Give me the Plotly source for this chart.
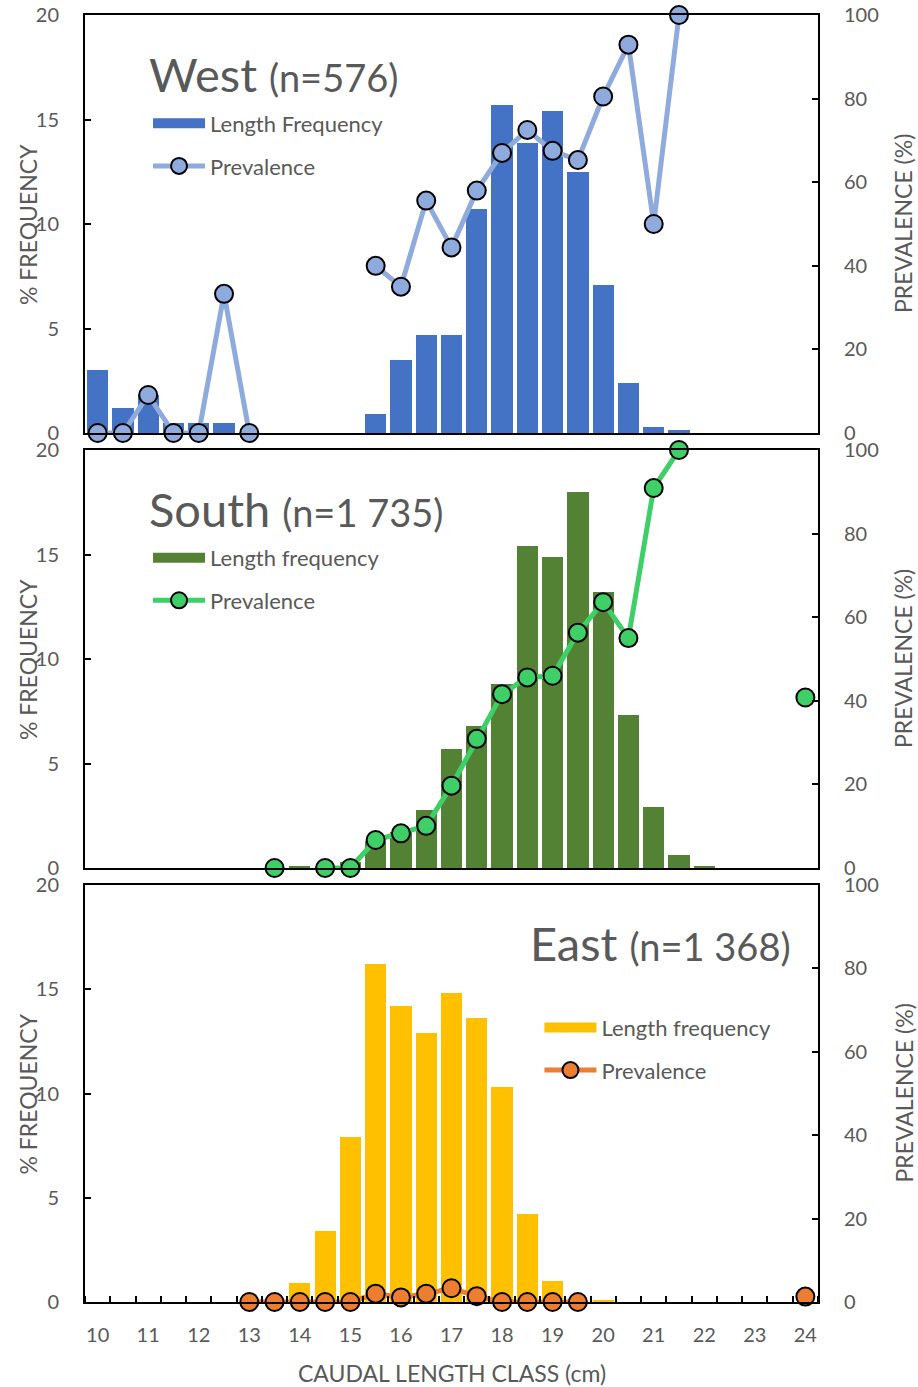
import plotly.graph_objects as go

# Caudal length classes (cm), 0.5 cm bins
length_class = [10, 10.5, 11, 11.5, 12, 12.5, 13, 13.5, 14, 14.5, 15, 15.5, 16, 16.5, 17,
                17.5, 18, 18.5, 19, 19.5, 20, 20.5, 21, 21.5, 22, 22.5, 23, 23.5, 24]
x_tick_labels = [10, 11, 12, 13, 14, 15, 16, 17, 18, 19, 20, 21, 22, 23, 24]

# West (n=576)
west_freq = [3.0, 1.2, 1.8, 0.5, 0.5, 0.5, 0, 0, 0, 0, 0, 0.9, 3.5, 4.7, 4.7,
             10.7, 15.7, 13.9, 15.4, 12.5, 7.1, 2.4, 0.3, 0.15, 0, 0, 0, 0, 0]
west_prev = [0, 0, 9.1, 0, 0, 33.3, 0, None, None, None, None, 40.0, 35.0, 55.6, 44.4,
             58.0, 67.0, 72.5, 67.5, 65.3, 80.5, 92.9, 50.0, 100, None, None, None, None, None]

# South (n=1 735)
south_freq = [0, 0, 0, 0, 0, 0, 0, 0, 0.1, 0.1, 0.3, 1.3, 1.7, 2.8, 5.7,
              6.8, 8.8, 15.4, 14.9, 18.0, 13.2, 7.3, 2.9, 0.6, 0.1, 0, 0, 0, 0]
south_prev = [None, None, None, None, None, None, None, 0, None, 0, 0, 6.7, 8.3, 10.1, 19.7,
              30.9, 41.6, 45.6, 46.0, 56.3, 63.6, 55.0, 90.9, 100, None, None, None, None, 40.8]

# East (n=1 368)
east_freq = [0, 0, 0, 0, 0, 0, 0, 0, 0.9, 3.4, 7.9, 16.2, 14.2, 12.9, 14.8,
             13.6, 10.3, 4.2, 1.0, 0, 0.1, 0, 0, 0, 0, 0, 0, 0, 0]
east_prev = [None, None, None, None, None, None, 0, 0, 0, 0, 0, 2.0, 1.1, 2.0, 3.3,
             1.4, 0, 0, 0, 0, None, None, None, None, None, None, None, None, 1.3]

FONT = "Lato"
GREY = "#595959"

panels = [
    dict(name="West", n="(n=576)", freq=west_freq, prev=west_prev,
         bar_color="#4472C4", line_color="#8FAADC", bar_label="Length Frequency",
         title_x=0.0846, title_y=0.86, legend_x=0.086, legend_y=0.932,
         domain=[0.6752, 1.0]),
    dict(name="South", n="(n=1 735)", freq=south_freq, prev=south_prev,
         bar_color="#548235", line_color="#3ECF66", bar_label="Length frequency",
         title_x=0.0846, title_y=0.86, legend_x=0.086, legend_y=0.5945,
         domain=[0.3372, 0.6620]),
    dict(name="East", n="(n=1 368)", freq=east_freq, prev=east_prev,
         bar_color="#FFC000", line_color="#ED7D31", bar_label="Length frequency",
         title_x=0.604, title_y=0.86, legend_x=0.62, legend_y=0.2295,
         domain=[0.0, 0.3240]),
]

fig = go.Figure()
layout = dict(
    width=918, height=1387,
    margin=dict(l=85, r=100, t=15, b=85, autoexpand=False),
    paper_bgcolor="white", plot_bgcolor="white",
    font=dict(family=FONT, color=GREY, size=20),
    showlegend=True,
    annotations=[],
    bargap=0,
)

for i, p in enumerate(panels):
    k = i + 1
    xa = "x" if k == 1 else f"x{k}"
    ya = "y" if k == 1 else f"y{2 * k - 1}"
    yb = f"y{2 * k}"
    leg = "legend" if k == 1 else f"legend{k}"

    fig.add_trace(go.Bar(
        x=length_class, y=p["freq"], width=0.42,
        marker=dict(color=p["bar_color"], line=dict(width=0)),
        name=p["bar_label"], xaxis=xa, yaxis=ya, showlegend=False,
    ))
    # legend key for the bars: a wide flat swatch in the bar colour
    fig.add_trace(go.Scatter(
        x=[None], y=[None], mode="lines",
        line=dict(color=p["bar_color"], width=13),
        name=p["bar_label"], xaxis=xa, yaxis=ya, legend=leg, legendgroup=f"b{k}",
    ))
    fig.add_trace(go.Scatter(
        x=length_class, y=p["prev"], mode="lines+markers",
        line=dict(color=p["line_color"], width=5),
        marker=dict(size=18, color=p["line_color"], line=dict(color="black", width=2)),
        name="Prevalence", xaxis=xa, yaxis=yb, legend=leg, legendgroup=f"p{k}",
        cliponaxis=False, connectgaps=False,
    ))

    x_key = "xaxis" if k == 1 else f"xaxis{k}"
    y_key = "yaxis" if k == 1 else f"yaxis{2 * k - 1}"
    y2_key = f"yaxis{2 * k}"

    xaxis = dict(
        domain=[0, 1], anchor=ya, range=[9.75, 24.25], automargin=False,
        showline=True, linecolor="black", linewidth=2, mirror=True,
        showgrid=False, zeroline=False, ticks="",
    )
    if k == 3:
        xaxis.update(
            tickmode="array", tickvals=x_tick_labels,
            ticktext=[str(v) for v in x_tick_labels],
            tickfont=dict(size=20, color=GREY), ticklabelstandoff=14,
            minor=dict(ticks="inside", tick0=9.75, dtick=0.5, ticklen=6,
                       tickwidth=1.5, tickcolor="black", showgrid=False),
        )
    else:
        xaxis.update(showticklabels=False)
    layout[x_key] = xaxis

    layout[y_key] = dict(
        domain=p["domain"], anchor=xa, range=[0, 20], tickmode="linear", tick0=0, dtick=5,
        ticks="inside", ticklen=6, tickwidth=1.5, tickcolor="black",
        showline=True, linecolor="black", linewidth=2, automargin=False,
        showgrid=False, zeroline=False,
        tickfont=dict(size=20, color=GREY), ticklabelstandoff=20,
    )
    layout[y2_key] = dict(
        overlaying=ya, anchor=xa, side="right", range=[0, 100], tickmode="linear",
        tick0=0, dtick=20, automargin=False,
        ticks="inside", ticklen=6, tickwidth=1.5, tickcolor="black",
        showline=True, linecolor="black", linewidth=2,
        showgrid=False, zeroline=False,
        tickfont=dict(size=20, color=GREY), ticklabelstandoff=20,
    )

    layout[leg] = dict(
        x=p["legend_x"], y=p["legend_y"], xanchor="left", yanchor="top",
        xref="paper", yref="paper",
        bgcolor="rgba(0,0,0,0)", font=dict(size=22, color=GREY, family=FONT),
        itemwidth=52, tracegroupgap=11,
    )

    # Panel title
    layout["annotations"].append(dict(
        xref=f"{xa} domain", yref=f"{ya} domain", x=p["title_x"], y=p["title_y"],
        xanchor="left", yanchor="middle", showarrow=False,
        text=f"{p['name']} <span style='font-size:38px'>{p['n']}</span>",
        font=dict(size=47, color=GREY, family=FONT),
    ))
    # Axis titles
    layout["annotations"].append(dict(
        xref="paper", yref=f"{ya} domain", x=-0.0778, y=0.5,
        xanchor="center", yanchor="middle", showarrow=False, textangle=-90,
        text="% FREQUENCY", font=dict(size=23, color=GREY, family=FONT),
    ))
    layout["annotations"].append(dict(
        xref="paper", yref=f"{ya} domain", x=1.1160, y=0.5,
        xanchor="center", yanchor="middle", showarrow=False, textangle=-90,
        text="PREVALENCE (%)", font=dict(size=23, color=GREY, family=FONT),
    ))

layout["annotations"].append(dict(
    xref="paper", yref="paper", x=0.5, y=-0.0555, xanchor="center", yanchor="middle",
    showarrow=False, text="CAUDAL LENGTH CLASS (cm)",
    font=dict(size=23, color=GREY, family=FONT),
))

fig.update_layout(**layout)
fig.write_html("out.html")
